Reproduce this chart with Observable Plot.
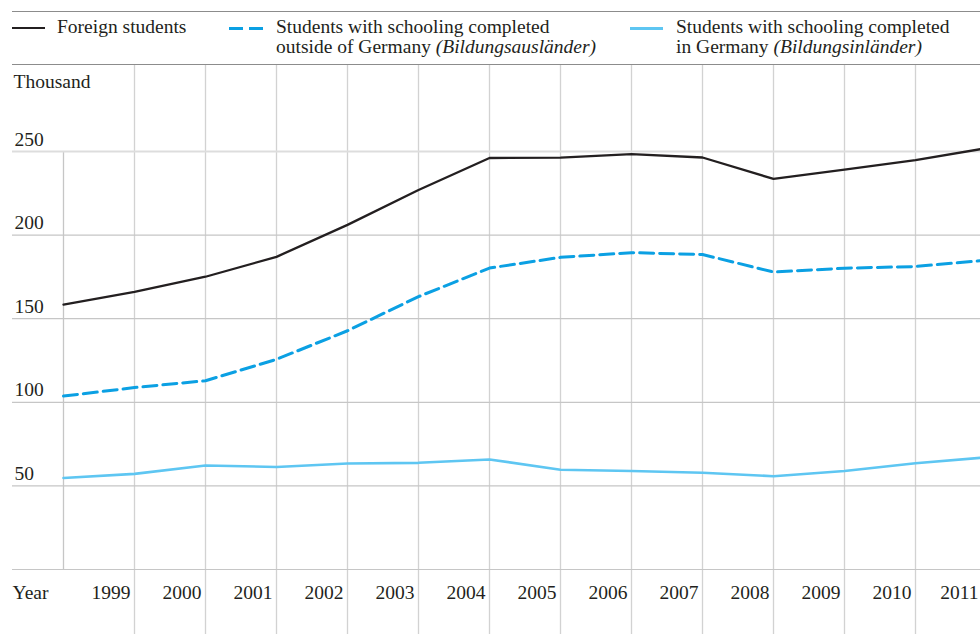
<!DOCTYPE html>
<html>
<head>
<meta charset="utf-8">
<script src="https://cdn.jsdelivr.net/npm/d3@7"></script>
<script src="https://cdn.jsdelivr.net/npm/@observablehq/plot@0.6"></script>
<style>
  html, body { margin: 0; padding: 0; background: #fff; overflow: hidden; }
  #outer { position: relative; width: 980px; height: 634px; overflow: hidden;
           font-family: "Liberation Serif", "Times New Roman", Times, serif; color: #231f20; }
  #inner { position: relative; width: 992px; }
  #legend { position: relative; height: 65px; }
  .rule { position: absolute; left: 12px; right: 0; height: 0; border-top: 1px solid #8c8c8c; }
  .item { position: absolute; top: 17px; font-size: 19.5px; line-height: 20px; white-space: nowrap; }
  .sw { position: absolute; top: 27px; height: 0; }
  #chart svg { display: block; }
</style>
</head>
<body>
<div id="outer"><div id="inner">
  <div id="legend"></div>
  <div id="chart"></div>
</div></div>
<script>
// ---- data (thousand students) ----
const years = [1998, 1999, 2000, 2001, 2002, 2003, 2004, 2005, 2006, 2007, 2008, 2009, 2010, 2011];
const foreignStudents = [158.4, 166.0, 175.1, 187.0, 206.1, 227.0, 246.1, 246.3, 248.4, 246.4, 233.6, 239.1, 244.8, 252.0];
const bildungsauslaender = [103.7, 108.8, 112.9, 125.7, 142.8, 163.2, 180.3, 186.7, 189.5, 188.4, 177.9, 180.2, 181.2, 185.0];
const bildungsinlaender = [54.7, 57.2, 62.2, 61.3, 63.4, 63.8, 65.8, 59.7, 58.9, 57.9, 55.8, 58.9, 63.5, 67.1];
const yearLabels = [1999, 2000, 2001, 2002, 2003, 2004, 2005, 2006, 2007, 2008, 2009, 2010, 2011];
const yTickLabels = [50, 100, 150, 200, 250];
const yGridValues = [0, 50, 100, 150, 200];
const seriesNames = [
  ["Foreign students"],
  ["Students with schooling completed", "outside of Germany ", "(Bildungsausländer)"],
  ["Students with schooling completed", "in Germany ", "(Bildungsinländer)"]
];
const colors = { foreign: "#231f20", ausl: "#0ba0e3", inl: "#5ec6f2" };

// ---- legend (HTML) ----
const legend = document.getElementById("legend");
legend.innerHTML = `
  <div class="rule" style="top:11px"></div>
  <div class="rule" style="top:64px"></div>
  <div class="sw" style="left:12px;width:33px;border-top:2.5px solid ${colors.foreign}"></div>
  <div class="item" style="left:57px">${seriesNames[0][0]}</div>
  <div class="sw" style="left:229px;width:14px;border-top:3px solid ${colors.ausl}"></div>
  <div class="sw" style="left:249px;width:14px;border-top:3px solid ${colors.ausl}"></div>
  <div class="item" style="left:276px">${seriesNames[1][0]}<br>${seriesNames[1][1]}<i>${seriesNames[1][2]}</i></div>
  <div class="sw" style="left:630px;width:33px;border-top:3px solid ${colors.inl}"></div>
  <div class="item" style="left:676px">${seriesNames[2][0]}<br>${seriesNames[2][1]}<i>${seriesNames[2][2]}</i></div>
`;

// ---- chart ----
const rows = years.map((year, i) => ({
  year, foreign: foreignStudents[i], ausl: bildungsauslaender[i], inl: bildungsinlaender[i]
}));
const innerYearLabels = yearLabels.slice(0, -1);
const lastYearLabel = yearLabels.slice(-1);

const font = '"Liberation Serif", "Times New Roman", Times, serif';
const chart = Plot.plot({
  width: 992,
  height: 569,
  marginLeft: 12,
  marginRight: 0,
  marginTop: 0,
  marginBottom: 0,
  style: { fontFamily: font, fontSize: "19.5px", color: "#231f20", background: "#fff", maxWidth: "none" },
  x: { type: "linear", domain: [1998, 2011], range: [63, 986], axis: null },
  y: { domain: [0, 250], range: [504, 86], axis: null },
  marks: [
    // vertical grid
    Plot.ruleX(yearLabels, { x: d => d, stroke: "#d2d2d2", strokeWidth: 1.3 }),
    Plot.ruleX([years[0]], { x: d => d, y1: 250, stroke: "#c6c6c6", strokeWidth: 1.3 }),
    // horizontal grid
    Plot.ruleY(yGridValues, { y: d => d, stroke: "#c6c6c6", strokeWidth: 1.2 }),
    Plot.ruleY([250], { y: d => d, stroke: "#dddddd", strokeWidth: 2 }),
    // y tick labels
    Plot.text(yTickLabels, { y: d => d, text: d => String(d), frameAnchor: "left", textAnchor: "start",
      lineAnchor: "bottom", dx: 2, dy: -6, fill: "#231f20" }),
    Plot.text(["Thousand"], { frameAnchor: "top-left", textAnchor: "start", lineAnchor: "bottom",
      dx: 1, dy: 22, fill: "#231f20" }),
    // x labels
    Plot.text(innerYearLabels, { x: d => d, text: d => String(d), frameAnchor: "bottom", textAnchor: "end",
      lineAnchor: "bottom", dx: -4, dy: -36, fill: "#231f20" }),
    Plot.text(lastYearLabel, { x: d => d, text: d => String(d), frameAnchor: "bottom", textAnchor: "end",
      lineAnchor: "bottom", dx: -8, dy: -36, fill: "#231f20" }),
    Plot.text(["Year"], { frameAnchor: "bottom-left", textAnchor: "start", lineAnchor: "bottom",
      dx: 0, dy: -36, fill: "#231f20" }),
    // series
    Plot.line(rows, { x: "year", y: "inl", stroke: colors.inl, strokeWidth: 2.6 }),
    Plot.line(rows, { x: "year", y: "ausl", stroke: colors.ausl, strokeWidth: 3, strokeDasharray: "14 6" }),
    Plot.line(rows, { x: "year", y: "foreign", stroke: colors.foreign, strokeWidth: 2.3 })
  ]
});
document.getElementById("chart").appendChild(chart);
</script>
</body>
</html>
